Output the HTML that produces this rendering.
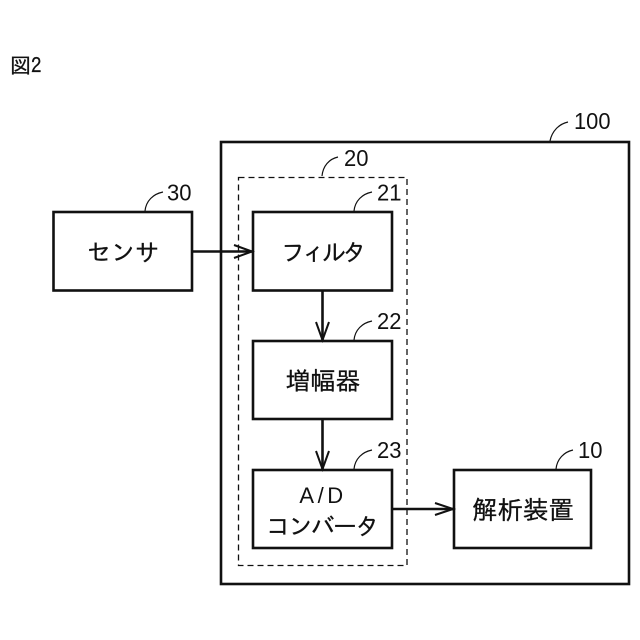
<!DOCTYPE html>
<html><head><meta charset="utf-8"><style>
html,body{margin:0;padding:0;background:#fff}
svg{display:block}
text{font-family:"IPAGothic","Noto Sans CJK JP",sans-serif;fill:#111;stroke:#111;stroke-width:.25}
.j{font-size:24px;text-anchor:middle}
.n{font-size:23.500px;font-family:"Liberation Sans",sans-serif;stroke-width:0}
rect{fill:none;stroke:#111;stroke-width:2.6}
.l{stroke:#111;stroke-width:2.6;fill:none}
.a{stroke:#111;stroke-width:2;fill:none}
.c{stroke:#111;stroke-width:1.2;fill:none}
</style></head><body>
<svg width="640" height="640" viewBox="0 0 640 640" xmlns="http://www.w3.org/2000/svg">
<text x="10" y="73" style="font-size:21px">図2</text>
<rect x="221" y="142" width="408" height="442"/>
<rect x="238.5" y="177.5" width="168.5" height="388" style="stroke-width:1.3;stroke-dasharray:6 4"/>
<rect x="53.5" y="212" width="138.5" height="78.500"/>
<rect x="253" y="212" width="139" height="78.500"/>
<rect x="253" y="341" width="139" height="78"/>
<rect x="253" y="470" width="139" height="78"/>
<rect x="454" y="470" width="137" height="78"/>

<path class="l" d="M192 251.500H252"/>
<path class="a" d="M234 245L252 251.500L234 258"/>
<path class="l" d="M322.500 290.500V340"/>
<path class="a" d="M316 322L322.500 340L329 322"/>
<path class="l" d="M322.500 419V469"/>
<path class="a" d="M316 451L322.500 469L329 451"/>
<path class="l" d="M392 509H453"/>
<path class="a" d="M435 503L453 509L435 515"/>

<path class="c" d="M145 211C146 201 153 194 163 192"/>
<path class="c" d="M550 141C552 131 559 124 568 122"/>
<path class="c" d="M322 176C323 166 329 159 338 157"/>
<path class="c" d="M354 211C355 201 362 194 372 192"/>
<path class="c" d="M354 340C355 330 362 323 372 321"/>
<path class="c" d="M354 469C355 459 362 452 372 450"/>
<path class="c" d="M556 469C557 459 564 452 573 450"/>

<text class="n" x="167" y="200.500" textLength="24.500" lengthAdjust="spacingAndGlyphs">30</text>
<text class="n" x="574" y="129" textLength="36.500" lengthAdjust="spacingAndGlyphs">100</text>
<text class="n" x="344" y="166" textLength="24.500" lengthAdjust="spacingAndGlyphs">20</text>
<text class="n" x="377" y="200.500" textLength="24.500" lengthAdjust="spacingAndGlyphs">21</text>
<text class="n" x="377" y="329" textLength="24.500" lengthAdjust="spacingAndGlyphs">22</text>
<text class="n" x="377" y="458" textLength="24.500" lengthAdjust="spacingAndGlyphs">23</text>
<text class="n" x="578" y="458" textLength="24.500" lengthAdjust="spacingAndGlyphs">10</text>

<text class="j" x="123" y="261">センサ</text>
<text class="j" x="322" y="261" style="letter-spacing:-3.500px">フィルタ</text>
<text class="j" x="323" y="390" style="font-size:25px">増幅器</text>
<text x="323" y="503" text-anchor="middle" style="font-size:22px;letter-spacing:3.500px;font-family:'Liberation Sans',sans-serif;stroke-width:0">A/D</text>
<text class="j" x="322" y="535" style="letter-spacing:-1.700px">コンバータ</text>
<text class="j" x="523" y="519" style="font-size:25.500px">解析装置</text>
</svg>
</body></html>
